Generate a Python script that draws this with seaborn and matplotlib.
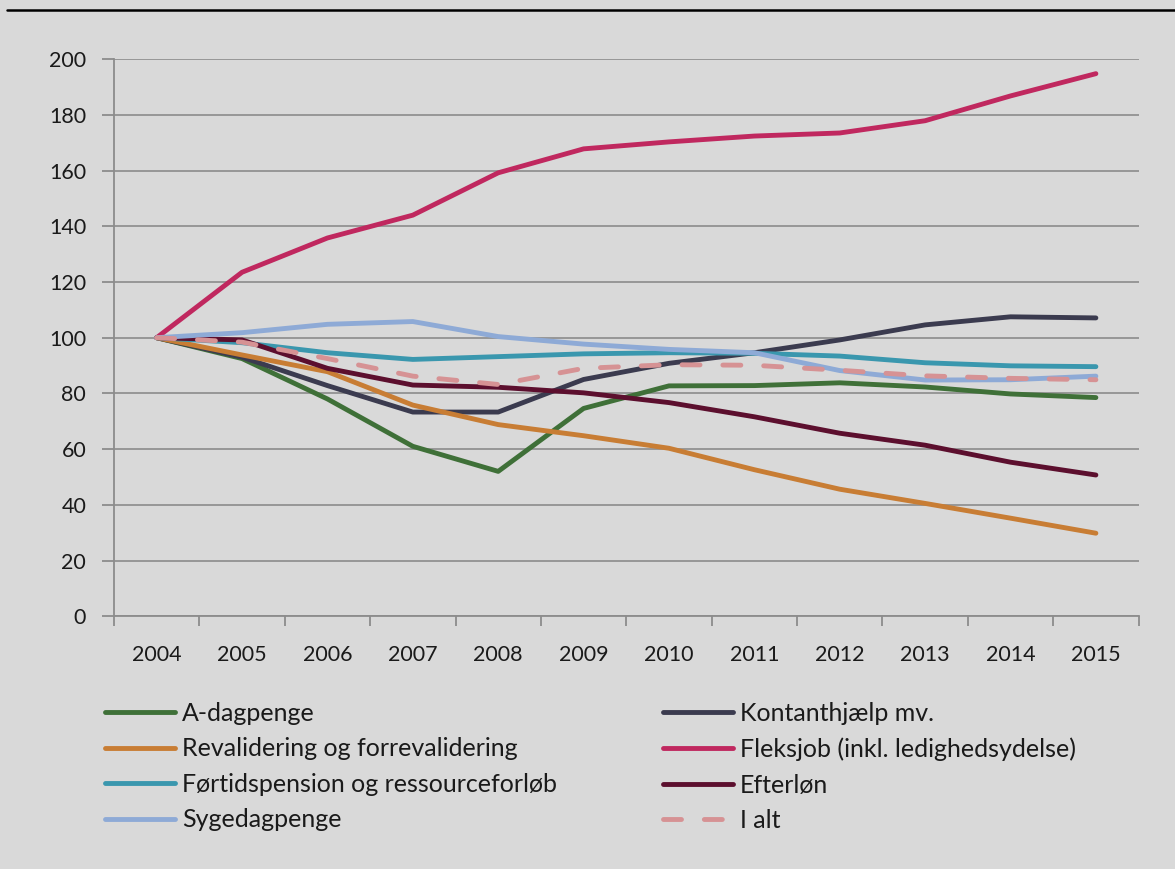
import numpy as np
import pandas as pd
import matplotlib.pyplot as plt
from matplotlib.lines import Line2D
import seaborn as sns

# Data (indeks, 2004 = 100)
years = ["2004", "2005", "2006", "2007", "2008", "2009",
         "2010", "2011", "2012", "2013", "2014", "2015"]

a_dagpenge = [100, 92.5, 78, 61, 52, 74.6, 82.7, 82.8, 83.8, 82.3, 79.8, 78.5]
kontanthjaelp = [100, 93, 82.8, 73.3, 73.3, 85, 90.8, 94.6, 99.2, 104.6, 107.5, 107.1]
revalidering = [100, 93.8, 87.8, 75.8, 68.8, 64.8, 60.3, 52.6, 45.6, 40.5, 35.2, 29.8]
fleksjob = [100, 123.5, 135.8, 144, 159.2, 167.8, 170.3, 172.4, 173.5, 177.9, 186.8, 194.8]
fortidspension = [100, 98.2, 94.6, 92.2, 93.2, 94.2, 94.6, 94.4, 93.4, 91, 89.9, 89.6]
efterlon = [100, 99.2, 89, 83, 82.2, 80.2, 76.7, 71.6, 65.7, 61.4, 55.3, 50.7]
sygedagpenge = [100, 101.8, 104.8, 105.8, 100.4, 97.7, 95.8, 94.6, 88.2, 84.8, 84.9, 86.2]
i_alt = [100, 98.4, 92.5, 86.2, 83.2, 89, 90.3, 90.1, 88.3, 86.3, 85.4, 84.9]

series_names = ["A-dagpenge", "Kontanthjælp mv.", "Revalidering og forrevalidering",
                "Fleksjob (inkl. ledighedsydelse)", "Førtidspension og ressourceforløb",
                "Efterløn", "Sygedagpenge", "I alt"]
series_values = [a_dagpenge, kontanthjaelp, revalidering, fleksjob,
                 fortidspension, efterlon, sygedagpenge, i_alt]
series_colors = ["#3f7038", "#3b3b4f", "#c87d34", "#c0285f",
                 "#3a97ae", "#5c0f2e", "#8eaad6", "#d69294"]

y_ticks = [0, 20, 40, 60, 80, 100, 120, 140, 160, 180, 200]

# Configuration du style
sns.set_theme(style="white")
plt.rcParams['font.family'] = ['Lato', 'DejaVu Sans']
plt.rcParams['text.color'] = '#1a1a1a'
plt.rcParams['xtick.color'] = '#8c8c8c'
plt.rcParams['ytick.color'] = '#8c8c8c'
plt.rcParams['xtick.labelcolor'] = '#1a1a1a'
plt.rcParams['ytick.labelcolor'] = '#1a1a1a'
plt.rcParams['lines.solid_capstyle'] = 'round'
plt.rcParams['lines.dash_capstyle'] = 'round'

bg = "#d9d9d9"

# Long-form table
rows = []
for name, vals in zip(series_names, series_values):
    for i, v in enumerate(vals):
        rows.append({"idx": i, "value": v, "serie": name})
df = pd.DataFrame(rows)

fig = plt.figure(figsize=(11.75, 8.69), dpi=100, facecolor=bg)
ax = fig.add_axes([0.097, 0.2909, 0.872, 0.6410])
ax.set_facecolor(bg)

palette = dict(zip(series_names, series_colors))
dashes = {n: "" for n in series_names}
dashes["I alt"] = (3.7, 4.7)

sns.lineplot(data=df, x="idx", y="value", hue="serie", style="serie",
             palette=palette, dashes=dashes, hue_order=series_names,
             style_order=series_names, linewidth=3.5, ax=ax, legend=False)

# Axes
ax.set_xlim(-0.5, len(years) - 0.5)
ax.set_ylim(0, 200)
ax.set_yticks(y_ticks)
ax.set_yticklabels([str(t) for t in y_ticks])
ax.set_xticks(range(len(years)))
ax.set_xticklabels(years)
ax.set_xticks(np.arange(-0.5, len(years)), minor=True)
ax.set_xlabel("")
ax.set_ylabel("")

ax.tick_params(axis='x', which='major', length=0, pad=21, labelsize=15.5)
ax.tick_params(axis='x', which='minor', length=7, width=1.3, direction='out')
ax.tick_params(axis='y', length=9, width=1.3, pad=11, labelsize=15.5, direction='out')
ax.tick_params(bottom=True, left=True, which='both')

ax.grid(axis='y', color='#8c8c8c', linewidth=1.2)
ax.set_axisbelow(True)
for side in ['top', 'right']:
    ax.spines[side].set_visible(False)
for side in ['left', 'bottom']:
    ax.spines[side].set_color('#8c8c8c')
    ax.spines[side].set_linewidth(1.3)

# Legend in two columns
handles = []
for name, col in zip(series_names, series_colors):
    if name == "I alt":
        h = Line2D([], [], color=col, linewidth=3.5, dashes=(3.7, 4.7))
    else:
        h = Line2D([], [], color=col, linewidth=3.5)
    handles.append(h)

left_idx = [0, 2, 4, 6]
right_idx = [1, 3, 5, 7]
common = dict(frameon=False, fontsize=18, handlelength=2.8, handletextpad=0.28,
              labelspacing=0.5, borderpad=0, borderaxespad=0, loc='upper left')
leg1 = fig.legend([handles[i] for i in left_idx], [series_names[i] for i in left_idx],
                  bbox_to_anchor=(0.0894, 0.1922), **common)
leg2 = fig.legend([handles[i] for i in right_idx], [series_names[i] for i in right_idx],
                  bbox_to_anchor=(0.5643, 0.1922), **common)

# Black rule at the top
fig.add_artist(Line2D([7 / 1175, 1], [1 - 10 / 869, 1 - 10 / 869],
                      color='black', linewidth=1.8, transform=fig.transFigure))

fig.savefig("out.png", dpi=100, facecolor=bg)
